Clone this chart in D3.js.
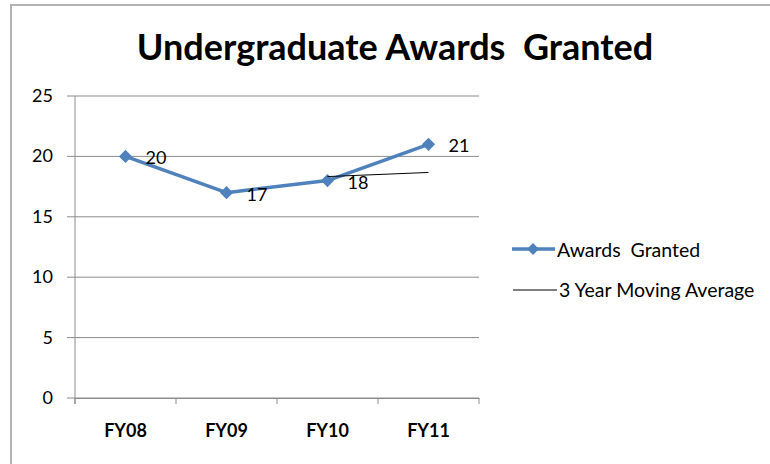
<!DOCTYPE html>
<html>
<head>
<meta charset="utf-8">
<script src="https://cdn.jsdelivr.net/npm/d3@7"></script>
<style>
  body { margin: 0; background: #fff; }
  svg { display: block; }
  text { font-family: Lato, "Open Sans", sans-serif; fill: #000; white-space: pre; }
</style>
</head>
<body>
<div id="chart"></div>
<script>
// data
const categories = ["FY08", "FY09", "FY10", "FY11"];
const awards = [20, 17, 18, 21];
const movingAvg = [null, null, 18.33, 18.67]; // 3 yr avg, only FY10 + FY11
const yTicks = [0, 5, 10, 15, 20, 25];

const W = 770, H = 464;
const plot = {left: 75, right: 479, top: 96, bottom: 398};
const blue = "#4f81bd";

const svg = d3.select("#chart").append("svg")
  .attr("width", W).attr("height", H);

// outer frame
svg.append("rect")
  .attr("x", 11).attr("y", 5)
  .attr("width", W + 10).attr("height", H + 10)
  .attr("fill", "#fff")
  .attr("stroke", "#b3b3b3").attr("stroke-width", 2);

svg.append("text")
  .attr("x", 395).attr("y", 60)
  .attr("text-anchor", "middle")
  .attr("font-size", 36).attr("font-weight", "bold")
  .text("Undergraduate Awards  Granted");

const x = d3.scaleBand().domain(categories).range([plot.left, plot.right]);
const y = d3.scaleLinear().domain([0, 25]).range([plot.bottom, plot.top]);

// gridlines (with the little tick stubs left of axis)
svg.append("g").selectAll("line")
  .data(yTicks).join("line")
  .attr("x1", plot.left - 8).attr("x2", plot.right)
  .attr("y1", d => y(d)).attr("y2", d => y(d))
  .attr("stroke", "#8c8c8c").attr("stroke-width", 1);

svg.append("g").selectAll("text")
  .data(yTicks).join("text")
  .attr("x", 53).attr("y", d => y(d) + 6)
  .attr("text-anchor", "end")
  .attr("font-size", 18)
  .text(d => d);

// y axis line
svg.append("line")
  .attr("x1", plot.left).attr("x2", plot.left)
  .attr("y1", plot.top).attr("y2", plot.bottom + 6)
  .attr("stroke", "#8c8c8c");

// x axis
const xAxis = d3.axisBottom(x).tickSize(0).tickPadding(26);
const gx = svg.append("g")
  .attr("transform", `translate(0,${plot.bottom})`)
  .call(xAxis);
gx.select(".domain").attr("stroke", "#8c8c8c");
gx.selectAll("text")
  .attr("font-size", 18).attr("font-weight", "bold")
  .attr("font-family", "Lato, 'Open Sans', sans-serif");

// tick marks between categories
const bounds = categories.map(c => x(c)).concat([plot.right]);
svg.append("g").selectAll("line")
  .data(bounds).join("line")
  .attr("x1", d => d).attr("x2", d => d)
  .attr("y1", plot.bottom).attr("y2", plot.bottom + 6)
  .attr("stroke", "#8c8c8c");

const cx = c => x(c) + x.bandwidth() / 2;

// main series
const line = d3.line()
  .x((d, i) => cx(categories[i]))
  .y(d => y(d));

svg.append("path")
  .datum(awards)
  .attr("d", line)
  .attr("fill", "none")
  .attr("stroke", blue).attr("stroke-width", 3.5)
  .attr("stroke-linejoin", "round");

svg.append("g").selectAll("path")
  .data(awards).join("path")
  .attr("d", d3.symbol(d3.symbolDiamond2, 110))
  .attr("transform", (d, i) => `translate(${cx(categories[i])},${y(d)})`)
  .attr("fill", blue);

// moving average line
const maLine = d3.line()
  .defined(d => d != null)
  .x((d, i) => cx(categories[i]))
  .y(d => y(d));

svg.append("path")
  .datum(movingAvg)
  .attr("d", maLine)
  .attr("fill", "none")
  .attr("stroke", "#000").attr("stroke-width", 1);

// data labels
svg.append("g").selectAll("text")
  .data(awards).join("text")
  .attr("x", (d, i) => cx(categories[i]) + 20)
  .attr("y", d => y(d) + 8)
  .attr("font-size", 18)
  .text(d => d);

// legend
const lg = svg.append("g");
lg.append("line")
  .attr("x1", 512).attr("x2", 555).attr("y1", 249).attr("y2", 249)
  .attr("stroke", blue).attr("stroke-width", 3.5);
lg.append("path")
  .attr("d", d3.symbol(d3.symbolDiamond2, 90))
  .attr("transform", "translate(533,249)")
  .attr("fill", blue);
lg.append("text")
  .attr("x", 557).attr("y", 257)
  .attr("font-size", 19.5)
  .text("Awards  Granted");

lg.append("line")
  .attr("x1", 513).attr("x2", 557).attr("y1", 290).attr("y2", 290)
  .attr("stroke", "#000").attr("stroke-width", 1);
lg.append("text")
  .attr("x", 559).attr("y", 297)
  .attr("font-size", 19.5)
  .text("3 Year Moving Average");
</script>
</body>
</html>
